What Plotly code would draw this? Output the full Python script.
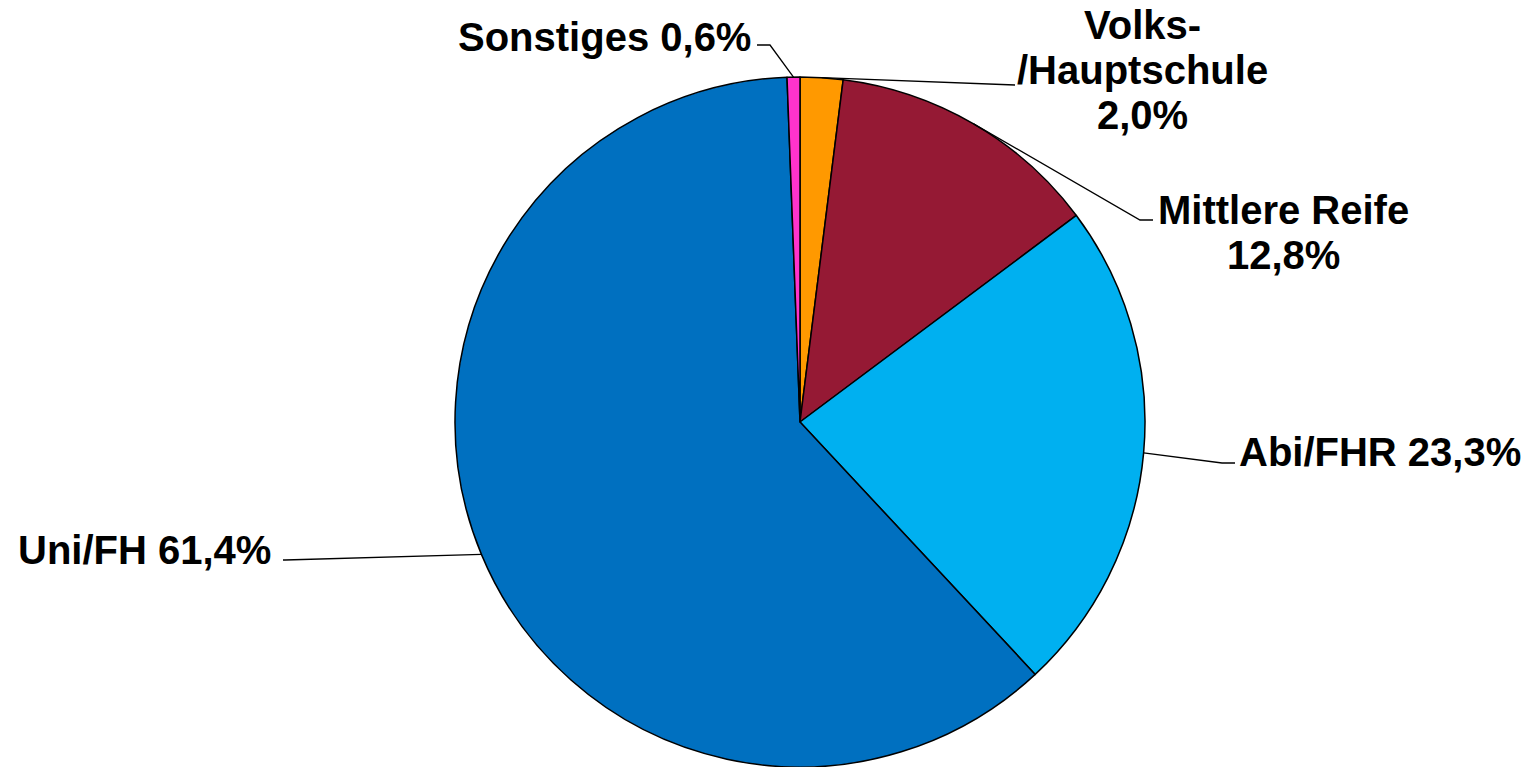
import math
import plotly.graph_objects as go

# ---- data ----
categories = ["Volks-<br>/Hauptschule", "Mittlere Reife", "Abi/FHR", "Uni/FH", "Sonstiges"]
shares = [2.0, 12.8, 23.3, 61.4, 0.6]
colors = ["#FF9900", "#951934", "#00B0F0", "#0070C0", "#FF33CC"]

# ---- layout constants (pixels) ----
W, H = 1533, 767
CX, CY, R = 800, 422, 345
FONT = dict(family="Liberation Sans, Arial, sans-serif", size=40, color="black", weight="bold")
LINE_GAP = 45

# label placement: text anchor (x, y of first line), xanchor, elbow, end of leader line
label_style = [
    dict(x=1142, y=25, xanchor="center", elbow=(1015, 85), end=(1015, 85), inline=False),
    dict(x=1283, y=210, xanchor="center", elbow=(1140, 220), end=(1153, 220), inline=False),
    dict(x=1237, y=452, xanchor="left", elbow=(1222, 463), end=(1235, 463), inline=True),
    dict(x=273, y=550, xanchor="right", elbow=(285, 560), end=(283, 560), inline=True),
    dict(x=753, y=37, xanchor="right", elbow=(770, 45), end=(757, 45), inline=True),
]


def px(x):
    return x / W


def py(y):
    return 1 - y / H


fig = go.Figure(go.Pie(
    labels=categories,
    values=shares,
    sort=False,
    direction="clockwise",
    rotation=0,
    marker=dict(colors=colors, line=dict(color="black", width=1.5)),
    textinfo="none",
    hoverinfo="label+percent",
    showlegend=False,
    domain=dict(x=[px(CX - R), px(CX + R)], y=[py(CY + R), py(CY - R)]),
))

total = sum(shares)
cum = 0.0
annotations = []
shapes = []
for cat, val, st in zip(categories, shares, label_style):
    mid = (cum + val / 2) / total * 2 * math.pi
    cum += val
    ex = CX + R * math.sin(mid)
    ey = CY - R * math.cos(mid)
    pct = f"{val:.1f}".replace(".", ",") + "%"
    if st["inline"]:
        lines = [cat.replace("<br>", "") + " " + pct]
    else:
        lines = cat.split("<br>") + [pct]
    for i, ln in enumerate(lines):
        annotations.append(dict(
            x=px(st["x"]), y=py(st["y"] + i * LINE_GAP), xref="paper", yref="paper",
            text=ln, showarrow=False, xanchor=st["xanchor"], yanchor="middle",
            font=FONT,
        ))
    (bx, by), (dx, dy) = st["elbow"], st["end"]
    path = f"M {px(ex)},{py(ey)} L {px(bx)},{py(by)} L {px(dx)},{py(dy)}"
    shapes.append(dict(type="path", xref="paper", yref="paper", path=path,
                       line=dict(color="black", width=1.3)))

fig.update_layout(
    width=W, height=H,
    margin=dict(l=0, r=0, t=0, b=0),
    paper_bgcolor="white",
    plot_bgcolor="white",
    annotations=annotations,
    shapes=shapes,
)

fig.write_html(
    "out.html",
    config={"displayModeBar": False},
    post_script="document.body.style.margin='0';document.body.style.overflow='hidden';",
)
